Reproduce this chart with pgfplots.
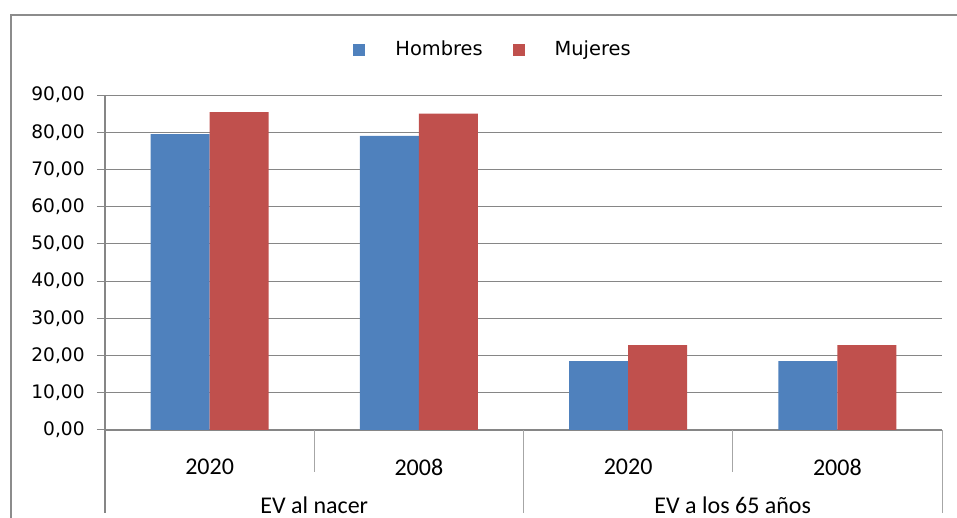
\documentclass[border=0pt]{standalone}
\usepackage{fontspec}
\setmainfont{DejaVu Sans}
\newfontfamily\carlito{Carlito}
\usepackage{pgfplots}
\pgfplotsset{compat=1.18}
\definecolor{hblue}{HTML}{4F81BD}
\definecolor{mred}{HTML}{C0504D}
\definecolor{gridc}{HTML}{868686}
\definecolor{framec}{HTML}{8C8C8C}
\definecolor{divc}{HTML}{A6A6A6}
\begin{document}
\begin{tikzpicture}
\useasboundingbox (0,0) rectangle (478.5pt,259pt);
\draw[framec, line width=1pt] (5.5pt,0) -- (5.5pt,251.5pt) -- (478.5pt,251.5pt);
\begin{axis}[
  at={(52.5pt,44pt)}, anchor=south west,
  scale only axis, width=418.5pt, height=167.5pt,
  xmin=-0.5, xmax=3.5, ymin=0, ymax=90,
  ybar=0pt, bar width=29.5pt,
  axis x line*=bottom, axis y line*=left,
  axis line style={gridc, line width=0.6pt, -},
  ymajorgrids, grid style={gridc, line width=0.5pt},
  ytick={0,10,...,90},
  tick align=outside, major tick length=4pt,
  ytick style={gridc, line width=0.5pt},
  x tick style={draw=none},
  /pgf/number format/.cd, fixed, fixed zerofill, precision=2, use comma, assume math mode=true,
  /pgfplots/.cd,
  yticklabel style={font=\fontsize{9.3}{11}\selectfont, anchor=east, inner sep=0pt, xshift=-6pt},
  xtick={0,1,2,3},
  xticklabels={2020,2008,2020,2008},
  xticklabel style={font=\carlito\fontsize{12}{14}\selectfont, anchor=center, inner sep=0pt, yshift=-14.5pt},
  extra x ticks={0.5,2.5},
  extra x tick labels={EV al nacer, EV a los 65 años},
  extra x tick style={tick label style={yshift=-19pt}, major grid style={draw=none}},
  clip=false,
  legend style={at={(0.4648,1.135)}, anchor=center, draw=none, fill=none,
    legend columns=2, font=\fontsize{9.7}{11}\selectfont,
    /tikz/every odd column/.append style={column sep=13pt},
    /tikz/every even column/.append style={column sep=13pt}},
]
\addplot[fill=hblue, draw=none, legend image code/.code={\fill[hblue] (0pt,-3pt) rectangle (6pt,3pt);}]
  coordinates {(0,79.5) (1,79.0) (2,18.5) (3,18.5)};
\addlegendentry{Hombres}
\addplot[fill=mred, draw=none, legend image code/.code={\fill[mred] (0pt,-3pt) rectangle (6pt,3pt);}]
  coordinates {(0,85.4) (1,85.0) (2,22.8) (3,22.8)};
\addlegendentry{Mujeres}
\draw[gridc, line width=0.6pt] (rel axis cs:0,0) -- ++(0pt,-41.5pt);
\draw[divc, line width=0.5pt] (rel axis cs:0.25,0) -- ++(0pt,-21pt);
\draw[divc, line width=0.5pt] (rel axis cs:0.5,0) -- ++(0pt,-41.5pt);
\draw[divc, line width=0.5pt] (rel axis cs:0.75,0) -- ++(0pt,-21pt);
\draw[divc, line width=0.5pt] (rel axis cs:1,0) -- ++(0pt,-41.5pt);
\end{axis}
\end{tikzpicture}
\end{document}
